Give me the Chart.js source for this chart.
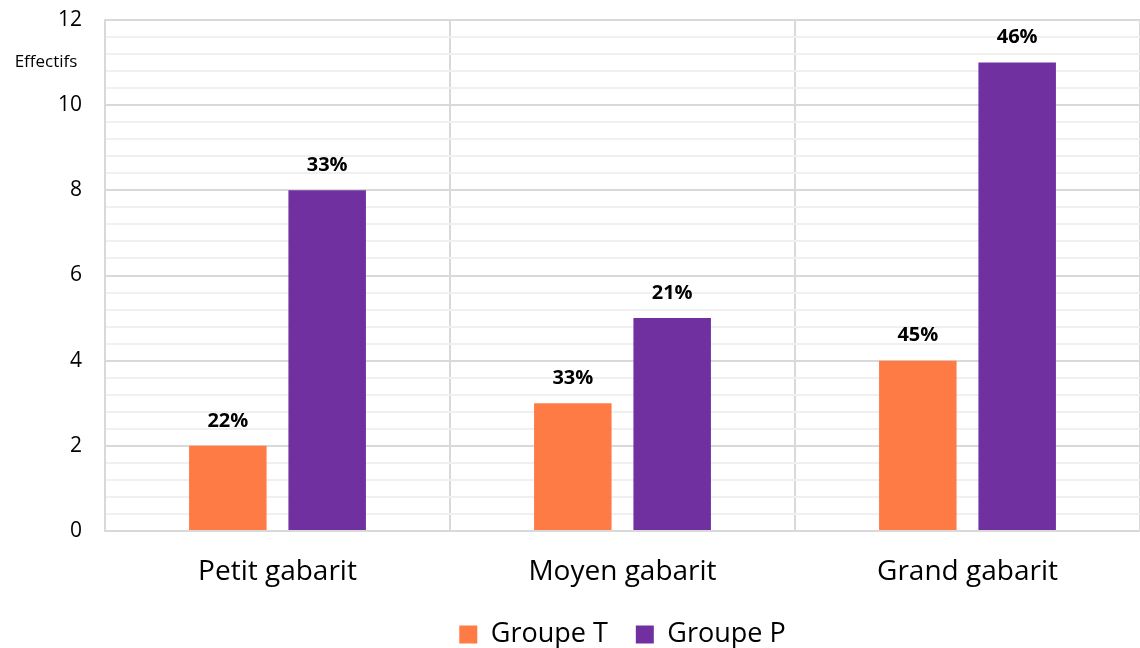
<!DOCTYPE html>
<html>
<head>
<meta charset="utf-8">
<script src="https://cdn.jsdelivr.net/npm/chart.js@4.4.0/dist/chart.umd.min.js"></script>
<style>
  html, body { margin: 0; padding: 0; background: #fff; }
  #wrap { width: 1140px; height: 648px; }
</style>
</head>
<body>
<div id="wrap"><canvas id="chart"></canvas></div>
<script>
const categories = ["Petit gabarit", "Moyen gabarit", "Grand gabarit"];
const groupeT = [2, 3, 4];
const groupeP = [8, 5, 11];
const pctT = ["22%", "33%", "45%"];
const pctP = ["33%", "21%", "46%"];
const yTitle = "Effectifs";

const FONT = "'Open Sans', 'Liberation Sans', sans-serif";

const isMajor = v => Math.abs(v / 2 - Math.round(v / 2)) < 1e-6;

const labelPlugin = {
    id: "labels",
    afterDatasetsDraw(chart) {
        const ctx = chart.ctx;
        ctx.save();
        ctx.fillStyle = "#000";
        ctx.font = "bold 20px " + FONT;
        ctx.textAlign = "center";
        ctx.textBaseline = "middle";
        const pcts = [pctT, pctP];
        chart.data.datasets.forEach((ds, i) => {
            chart.getDatasetMeta(i).data.forEach((bar, j) => {
                ctx.fillText(pcts[i][j], bar.x, bar.y - 25);
            });
        });
        // titre de l'axe
        const y = chart.scales.y;
        ctx.font = "17px " + FONT;
        ctx.fillText(yTitle, 46, y.getPixelForValue(11));
        ctx.restore();
    }
};

new Chart(document.getElementById("chart"), {
    type: "bar",
    data: {
        labels: categories,
        datasets: [
            { label: "Groupe T", data: groupeT, backgroundColor: "#ff7b45" },
            { label: "Groupe P", data: groupeP, backgroundColor: "#7030a0" }
        ]
    },
    options: {
        responsive: true,
        maintainAspectRatio: false,
        animation: false,
        categoryPercentage: 0.576,
        barPercentage: 0.78,
        layout: { padding: { top: 20, right: 0, left: 0, bottom: 0 } },
        scales: {
            x: {
                afterFit: s => { s.height = 62; },
                grid: { offset: true, color: "#d9d9d9", lineWidth: 2, drawTicks: false },
                border: { color: "#d9d9d9", width: 2 },
                ticks: { color: "#000", font: { family: FONT, size: 28 }, padding: 24 }
            },
            y: {
                min: 0,
                max: 12,
                afterFit: s => { s.width = 105; s.paddingTop = 0; s.paddingBottom = 0; },
                ticks: {
                    stepSize: 0.4,
                    autoSkip: false,
                    color: "#000",
                    font: { family: FONT, size: 21 },
                    padding: 23,
                    callback: v => isMajor(v) ? Math.round(v) : ""
                },
                grid: {
                    drawTicks: false,
                    color: c => isMajor(c.tick.value) ? "#d9d9d9" : "#f0f0f0",
                    lineWidth: 2
                },
                border: { color: "#d9d9d9", width: 2 }
            }
        },
        plugins: {
            legend: {
                position: "bottom",
                fullSize: false,
                maxHeight: 55,
                labels: {
                    color: "#000",
                    font: { family: FONT, size: 27 },
                    boxWidth: 18,
                    boxHeight: 18,
                    padding: 28
                }
            },
            tooltip: { enabled: false }
        }
    },
    plugins: [labelPlugin]
});
</script>
</body>
</html>
